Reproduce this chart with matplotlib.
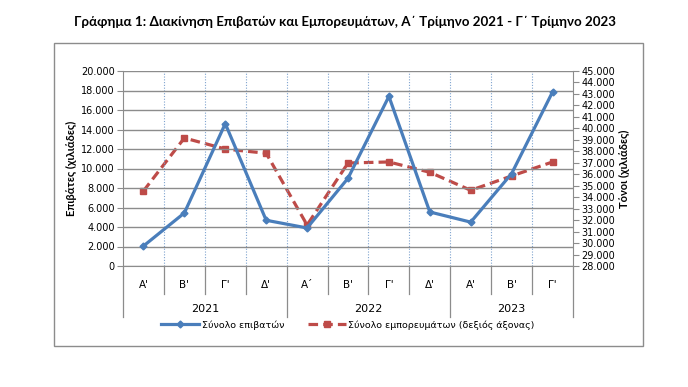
import matplotlib.pyplot as plt
from matplotlib.ticker import FuncFormatter, MultipleLocator
from matplotlib.patches import Rectangle
from matplotlib.lines import Line2D

# data
quarters = ["Α'", "Β'", "Γ'", "Δ'", "Α´", "Β'", "Γ'", "Δ'", "Α'", "Β'", "Γ'"]
years = ["2021", "2022", "2023"]
quarters_per_year = [4, 4, 3]
passengers = [2050, 5440, 14600, 4690, 3900, 9000, 17400, 5540, 4500, 9480, 17850]
goods = [34540, 39160, 38200, 37830, 31570, 36980, 37070, 36170, 34600, 35850, 37070]

blue = '#4A7EBB'
red = '#BE4B48'
grid_col = '#8C8C8C'

def thousands(v, pos):
    return f"{int(round(v)):,}".replace(",", ".")

W, H = 688, 387
fig = plt.figure(figsize=(W / 100, H / 100), dpi=100)

# chart frame
fig.patches.append(Rectangle((54 / W, 1 - 346 / H), (643 - 54) / W, (346 - 43) / H,
                             transform=fig.transFigure, fill=False,
                             edgecolor='#8C8C8C', linewidth=1.0))

fig.text(345 / W, 1 - 22 / H,
         "Γράφημα 1: Διακίνηση Επιβατών και Εμπορευμάτων, Α΄ Τρίμηνο 2021 - Γ΄ Τρίμηνο 2023",
         ha='center', va='center', fontsize=9.6, fontweight='bold', family='Lato')

x0, x1, ytop, ybot = 123, 573, 71, 266
ax = fig.add_axes([x0 / W, 1 - ybot / H, (x1 - x0) / W, (ybot - ytop) / H])
ax2 = ax.twinx()

x = list(range(len(quarters)))
ax.set_xlim(-0.5, len(quarters) - 0.5)
ax.set_ylim(0, 20000)
ax.yaxis.set_major_locator(MultipleLocator(2000))
ax.yaxis.set_major_formatter(FuncFormatter(thousands))
ax.grid(axis='y', color=grid_col, linewidth=1.0)
ax.set_axisbelow(True)
for xv in range(len(quarters) - 1):
    ax.axvline(xv + 0.5, color='#7EA3CF', linewidth=0.8, linestyle=(0, (1, 1.5)), zorder=0)
ax.set_xticks([])

ax2.set_ylim(28000, 45000)
ax2.yaxis.set_major_locator(MultipleLocator(1000))
ax2.yaxis.set_major_formatter(FuncFormatter(thousands))

for a in (ax, ax2):
    for s in a.spines.values():
        s.set_visible(False)
    a.tick_params(axis='y', labelsize=7, length=4, color=grid_col, pad=2)
ax.spines['left'].set_visible(True)
ax.spines['left'].set_color(grid_col)
ax.spines['bottom'].set_visible(True)
ax.spines['bottom'].set_color(grid_col)
ax2.spines['right'].set_visible(True)
ax2.spines['right'].set_color(grid_col)

ax.set_ylabel("Επιβάτες (χιλιάδες)", fontsize=8, fontweight='bold', family='Lato', labelpad=3)
ax2.set_ylabel("Τόνοι (χιλιάδες)", fontsize=8, fontweight='bold', family='Lato',
               rotation=90, labelpad=3)

ax.plot(x, passengers, color=blue, linewidth=2.3, marker='D', markersize=3.5,
        zorder=5, clip_on=False)
ax2.plot(x, goods, color=red, linewidth=2.3, linestyle=(0, (3, 1.6)), marker='s',
         markersize=5, zorder=4, clip_on=False)
ax.set_zorder(ax2.get_zorder() + 1)
ax.patch.set_visible(False)

# multi-level category axis
tr = ax.get_xaxis_transform()
ax_h = ybot - ytop
for i, q in enumerate(quarters):
    ax.text(i, -(285 - ybot) / ax_h, q, transform=tr, ha='center', va='center',
            fontsize=7.5)
starts = [0]
for n in quarters_per_year:
    starts.append(starts[-1] + n)
year_edges = [s - 0.5 for s in starts]
for xv in range(len(quarters) + 1):
    edge = xv - 0.5
    low = 317 if edge in year_edges else 294
    ax.plot([edge, edge], [0, -(low - ybot) / ax_h], transform=tr, color=grid_col,
            linewidth=0.9, clip_on=False)
for yr, s, n in zip(years, starts, quarters_per_year):
    ax.text(s + (n - 1) / 2, -(309 - ybot) / ax_h, yr, transform=tr, ha='center',
            va='center', fontsize=8)

handles = [Line2D([], [], color=blue, linewidth=2.3, marker='D', markersize=3.5),
           Line2D([], [], color=red, linewidth=2.3, linestyle=(0, (3, 1.6)), marker='s', markersize=5)]
fig.legend(handles, ["Σύνολο επιβατών", "Σύνολο εμπορευμάτων (δεξιός άξονας)"],
           loc='center', bbox_to_anchor=(348 / W, 1 - 325 / H), ncol=2, frameon=False,
           fontsize=6.8, handlelength=4, columnspacing=2.5, handletextpad=0.3)

fig.savefig('out.png', dpi=100)
